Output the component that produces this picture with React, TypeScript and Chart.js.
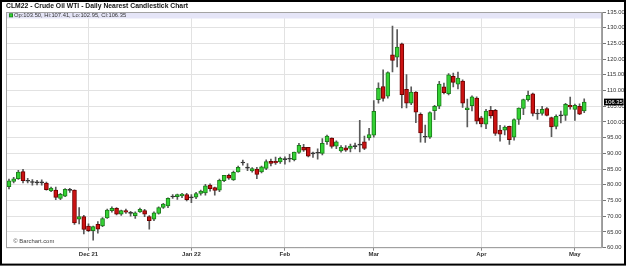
import React, { useEffect, useRef } from "react";
import { Chart, registerables } from "chart.js";

Chart.register(...registerables);

// ---- Data (CLM22 daily nearest) ----
const dates: string[] = [
  "2021-11-05","2021-11-08","2021-11-09","2021-11-10","2021-11-11","2021-11-12","2021-11-15","2021-11-16","2021-11-17","2021-11-18",
  "2021-11-19","2021-11-22","2021-11-23","2021-11-24","2021-11-26","2021-11-29","2021-11-30",
  "2021-12-01","2021-12-02","2021-12-03","2021-12-06","2021-12-07","2021-12-08","2021-12-09","2021-12-10","2021-12-13","2021-12-14",
  "2021-12-15","2021-12-16","2021-12-17","2021-12-20","2021-12-21","2021-12-22","2021-12-23","2021-12-27","2021-12-28","2021-12-29",
  "2021-12-30","2021-12-31",
  "2022-01-03","2022-01-04","2022-01-05","2022-01-06","2022-01-07","2022-01-10","2022-01-11","2022-01-12","2022-01-13","2022-01-14",
  "2022-01-18","2022-01-19","2022-01-20","2022-01-21","2022-01-24","2022-01-25","2022-01-26","2022-01-27","2022-01-28","2022-01-31",
  "2022-02-01","2022-02-02","2022-02-03","2022-02-04","2022-02-07","2022-02-08","2022-02-09","2022-02-10","2022-02-11","2022-02-14",
  "2022-02-15","2022-02-16","2022-02-17","2022-02-18","2022-02-22","2022-02-23","2022-02-24","2022-02-25","2022-02-28",
  "2022-03-01","2022-03-02","2022-03-03","2022-03-04","2022-03-07","2022-03-08","2022-03-09","2022-03-10","2022-03-11","2022-03-14",
  "2022-03-15","2022-03-16","2022-03-17","2022-03-18","2022-03-21","2022-03-22","2022-03-23","2022-03-24","2022-03-25","2022-03-28",
  "2022-03-29","2022-03-30","2022-03-31",
  "2022-04-01","2022-04-04","2022-04-05","2022-04-06","2022-04-07","2022-04-08","2022-04-11","2022-04-12","2022-04-13","2022-04-14",
  "2022-04-18","2022-04-19","2022-04-20","2022-04-21","2022-04-22","2022-04-25","2022-04-26","2022-04-27","2022-04-28","2022-04-29",
  "2022-05-02","2022-05-03","2022-05-04",
];

const opens: number[] = [
  79.4, 81.1, 82.0, 84.2, 81.3, 80.9, 80.8, 80.8, 80.6, 78.1,
  78.3, 75.7, 76.4, 78.4, 78.3, 69.1, 69.9,
  66.9, 65.4, 67.4, 66.9, 69.5, 71.8, 72.5, 70.7, 71.8, 71.1,
  70.2, 71.4, 71.8, 69.9, 69.1, 70.9, 72.8, 73.3, 76.3, 76.2,
  76.5, 76.9,
  76.0, 76.1, 77.3, 77.4, 79.9, 79.1, 78.3, 81.3, 83.0, 81.6,
  84.1, 87.1, 85.5, 84.4, 85.0, 84.1, 85.2, 87.5, 87.5, 87.3,
  88.2, 88.3, 88.0, 90.3, 91.9, 91.9, 90.0, 90.2, 90.0, 93.7,
  94.9, 92.3, 90.8, 91.8, 91.6, 92.3, 92.8, 93.7, 94.9,
  95.8, 107.1, 111.3, 108.2, 121.4, 120.6, 124.9, 110.4, 106.0, 109.5,
  102.4, 95.3, 95.2, 103.6, 105.0, 111.2, 109.0, 114.5, 112.0, 113.0,
  103.9, 105.2, 107.6,
  101.3, 99.3, 103.7, 103.7, 97.4, 97.4, 98.6, 95.2, 100.8, 104.3,
  107.1, 109.0, 102.7, 102.7, 104.3, 101.4, 98.6, 102.1, 102.1, 105.3,
  104.0, 105.0, 103.5,
];

const highs: number[] = [
  81.8, 82.4, 84.6, 84.9, 82.1, 81.7, 81.4, 81.6, 80.9, 79.3,
  79.3, 77.3, 78.8, 78.9, 78.4, 72.8, 70.3,
  67.6, 66.9, 68.3, 69.6, 72.3, 73.0, 72.8, 72.0, 72.3, 71.6,
  71.4, 72.6, 72.2, 70.2, 71.4, 73.0, 74.1, 75.9, 76.9, 77.1,
  77.3, 77.3,
  76.9, 77.6, 78.3, 80.2, 80.3, 79.3, 81.8, 83.0, 83.4, 84.4,
  86.0, 87.9, 86.8, 85.5, 85.6, 86.0, 88.0, 88.2, 88.8, 88.8,
  88.9, 89.7, 90.4, 93.2, 92.9, 91.9, 90.4, 91.5, 94.7, 95.8,
  95.0, 94.0, 92.5, 92.5, 93.0, 93.3, 100.5, 95.5, 98.0,
  106.8, 112.5, 116.6, 116.0, 130.5, 129.4, 125.1, 115.1, 111.2, 109.7,
  102.9, 99.0, 103.2, 105.3, 112.9, 112.4, 115.4, 115.6, 115.9, 113.4,
  107.3, 108.3, 108.0,
  101.8, 104.0, 105.0, 104.0, 98.9, 98.8, 98.7, 101.0, 104.5, 107.3,
  109.8, 109.2, 104.0, 105.0, 104.6, 101.6, 102.3, 103.5, 105.9, 107.9,
  105.7, 105.8, 107.41,
];

const lows: number[] = [
  78.7, 80.6, 81.7, 80.6, 80.6, 79.9, 80.0, 79.9, 78.3, 77.8,
  75.3, 75.3, 76.2, 77.6, 67.4, 67.6, 64.4,
  65.1, 62.4, 64.6, 66.7, 69.3, 71.3, 70.4, 70.3, 70.9, 70.0,
  69.3, 71.2, 69.9, 65.9, 68.6, 70.7, 72.5, 72.7, 75.7, 75.4,
  75.9, 74.9,
  74.3, 75.6, 76.7, 76.7, 78.0, 76.7, 77.8, 81.0, 81.7, 81.4,
  84.0, 86.3, 84.5, 84.0, 82.0, 83.8, 84.8, 86.0, 86.5, 86.8,
  86.6, 87.3, 87.6, 90.0, 90.6, 88.9, 88.7, 88.2, 89.5, 92.9,
  91.7, 91.5, 90.4, 90.6, 90.5, 91.4, 90.5, 91.2, 94.2,
  95.2, 106.0, 106.6, 107.6, 115.9, 117.5, 104.5, 104.5, 105.5, 99.8,
  93.6, 93.5, 94.8, 100.7, 104.2, 108.9, 108.6, 111.2, 110.5, 104.6,
  98.4, 103.5, 99.4,
  98.4, 97.9, 101.2, 95.7, 93.9, 95.9, 92.9, 94.2, 99.2, 102.3,
  106.6, 101.9, 100.8, 102.2, 101.9, 95.3, 97.8, 99.7, 100.5, 104.1,
  100.5, 102.3, 102.95,
];

const closes: number[] = [
  81.3, 81.9, 84.1, 81.3, 81.3, 80.9, 80.8, 80.8, 78.5, 79.0,
  76.0, 77.0, 78.6, 78.4, 67.9, 69.9, 65.8,
  65.4, 66.7, 65.9, 69.3, 72.0, 72.5, 70.7, 71.8, 71.3, 71.1,
  71.1, 72.2, 70.7, 68.6, 71.1, 72.8, 73.9, 75.7, 76.3, 76.9,
  77.1, 75.3,
  76.0, 77.2, 78.0, 79.7, 78.8, 78.2, 81.4, 83.0, 82.1, 84.0,
  85.6, 87.1, 85.5, 85.2, 83.3, 85.7, 87.4, 86.8, 87.0, 88.4,
  88.2, 88.3, 90.4, 92.6, 91.0, 89.1, 90.0, 90.2, 93.2, 95.5,
  92.2, 93.7, 91.9, 91.0, 92.3, 92.3, 92.8, 91.6, 96.0,
  103.4, 110.8, 107.5, 115.7, 119.6, 123.8, 108.7, 106.0, 109.5, 103.1,
  96.5, 95.3, 103.0, 105.0, 112.1, 109.3, 115.0, 112.6, 114.0, 106.0,
  104.5, 108.0, 100.3,
  99.4, 103.5, 101.9, 96.4, 96.1, 98.4, 94.4, 100.8, 104.4, 107.1,
  108.5, 102.7, 102.7, 104.0, 102.1, 98.4, 101.8, 102.1, 105.6, 104.8,
  105.3, 102.5, 106.35,
];

const monthTickLabels: string[] = ["Dec 21", "Jan 22", "Feb", "Mar", "Apr", "May"];
const yMin = 60;
const yMax = 135;
const yStep = 5;

const titleText = "CLM22 - Crude Oil WTI - Daily Nearest Candlestick Chart";
const sourceText = "\u00A9 Barchart.com";

// ---- Styles ----
const FONT = "'Liberation Sans', Arial, Helvetica, sans-serif";
const UP_FILL = "#34d234";
const UP_EDGE = "#1b7d1b";
const DN_FILL = "#cc1212";
const DN_EDGE = "#6e0000";
const FLAT = "#333333";
const WICK = "#5a5a5a";
const GRID = "#e2e2e2";

function monthStartIndices(): number[] {
  const out: number[] = [];
  for (let i = 1; i < dates.length; i++) {
    if (dates[i].slice(0, 7) !== dates[i - 1].slice(0, 7)) out.push(i);
  }
  return out;
}

export default function App() {
  const ref = useRef<HTMLCanvasElement | null>(null);

  useEffect(() => {
    const canvas = ref.current;
    if (!canvas) return;
    const n = dates.length;
    const monthIdx = monthStartIndices();

    const bodyData = opens.map((o, i) => {
      const c = closes[i];
      if (Math.abs(c - o) < 0.05) return { x: i, y: [c - 0.16, c + 0.16] };
      return { x: i, y: [o, c] };
    });
    const wickData = highs.map((h, i) => ({ x: i, y: [lows[i], h] }));
    const fills = opens.map((o, i) =>
      Math.abs(closes[i] - o) < 0.05 ? FLAT : closes[i] > o ? UP_FILL : DN_FILL
    );
    const edges = opens.map((o, i) =>
      Math.abs(closes[i] - o) < 0.05 ? FLAT : closes[i] > o ? UP_EDGE : DN_EDGE
    );

    const last = n - 1;
    const legendText =
      "Op:" + opens[last].toFixed(2) +
      ", Hi:" + highs[last].toFixed(2) +
      ", Lo:" + lows[last].toFixed(2) +
      ", Cl:" + closes[last].toFixed(2);

    const decorPlugin = {
      id: "decor",
      beforeDatasetsDraw(chart: any) {
        const { ctx, chartArea } = chart;
        ctx.save();
        ctx.fillStyle = "#e5e5f7";
        ctx.fillRect(chartArea.left, chartArea.top, chartArea.right - chartArea.left, 6.5);
        ctx.restore();
      },
      afterDraw(chart: any) {
        const { ctx, chartArea } = chart;
        const ys = chart.scales.y;
        ctx.save();
        // plot frame
        ctx.strokeStyle = "#a3a3a3";
        ctx.lineWidth = 1;
        ctx.strokeRect(chartArea.left + 0.5, chartArea.top + 0.5,
          chartArea.right - chartArea.left - 1, chartArea.bottom - chartArea.top - 0.5);

        // legend swatch + text
        ctx.fillStyle = UP_EDGE;
        ctx.fillRect(9, 13.3, 4, 4);
        ctx.fillStyle = UP_FILL;
        ctx.fillRect(9.8, 14.1, 2.4, 2.4);
        ctx.fillStyle = "#333";
        ctx.font = "5.8px " + FONT;
        ctx.textBaseline = "alphabetic";
        ctx.textAlign = "left";
        ctx.fillText(legendText, 14, 17.4);

        // source
        ctx.fillStyle = "#444";
        ctx.font = "5.9px " + FONT;
        ctx.fillText(sourceText, 13.3, 243.2);

        // title
        ctx.fillStyle = "#111";
        ctx.font = "bold 6.8px " + FONT;
        ctx.fillText(titleText, 6, 8.4);

        // current price label
        const yp = ys.getPixelForValue(closes[last]);
        ctx.fillStyle = "#000";
        ctx.fillRect(604, yp - 3.4, 19.5, 6.8);
        ctx.fillStyle = "#fff";
        ctx.font = "5.8px " + FONT;
        ctx.textBaseline = "middle";
        ctx.fillText(closes[last].toFixed(2), 605, yp + 0.3);

        // outer border
        ctx.strokeStyle = "#000";
        ctx.lineWidth = 2;
        ctx.strokeRect(1, 1, 624, 263.6);
        ctx.restore();
      },
    };

    const chart = new Chart(canvas, {
      type: "bar",
      data: {
        datasets: [
          {
            label: "body",
            data: bodyData as any,
            backgroundColor: fills,
            borderColor: edges,
            borderWidth: 1,
            borderSkipped: false,
            barThickness: 4,
            grouped: false,
            order: 0,
          } as any,
          {
            label: "wick",
            data: wickData as any,
            backgroundColor: WICK,
            borderWidth: 0,
            barThickness: 1,
            grouped: false,
            order: 1,
          } as any,
        ],
      },
      options: {
        animation: false,
        responsive: false,
        maintainAspectRatio: false,
        layout: { padding: { left: 6, top: 12, right: 0, bottom: 0 } },
        plugins: {
          legend: { display: false },
          tooltip: { enabled: false },
          title: { display: false },
        },
        scales: {
          x: {
            type: "linear",
            min: -0.64,
            max: 126.8,
            offset: false,
            afterBuildTicks: (s: any) => {
              s.ticks = monthIdx.map((v) => ({ value: v }));
            },
            afterFit: (s: any) => {
              s.height = 21.3;
            },
            ticks: {
              autoSkip: false,
              maxRotation: 0,
              minRotation: 0,
              padding: 0,
              color: "#333",
              font: { family: FONT, size: 6, weight: "bold" },
              callback: (_v: any, i: number) => monthTickLabels[i],
            },
            grid: { color: GRID, offset: false, drawTicks: true, tickLength: 3, tickColor: "#888" },
            border: { display: true, color: "#999" },
          },
          y: {
            type: "linear",
            position: "right",
            min: yMin,
            max: yMax,
            afterFit: (s: any) => {
              s.width = 24;
            },
            ticks: {
              stepSize: yStep,
              padding: 1,
              color: "#333",
              font: { family: FONT, size: 5.8 },
              callback: (v: any) => Number(v).toFixed(2),
            },
            grid: { color: GRID, drawTicks: true, tickLength: 4, tickColor: "#777" },
            border: { display: true, color: "#999" },
          },
        },
      } as any,
      plugins: [decorPlugin],
    });

    return () => chart.destroy();
  }, []);

  return (
    <div style={{ position: "fixed", left: 0, top: 0, width: 626, height: 269, background: "#fff" }}>
      <canvas ref={ref} width={626} height={269} style={{ display: "block", width: 626, height: 269 }} />
    </div>
  );
}
